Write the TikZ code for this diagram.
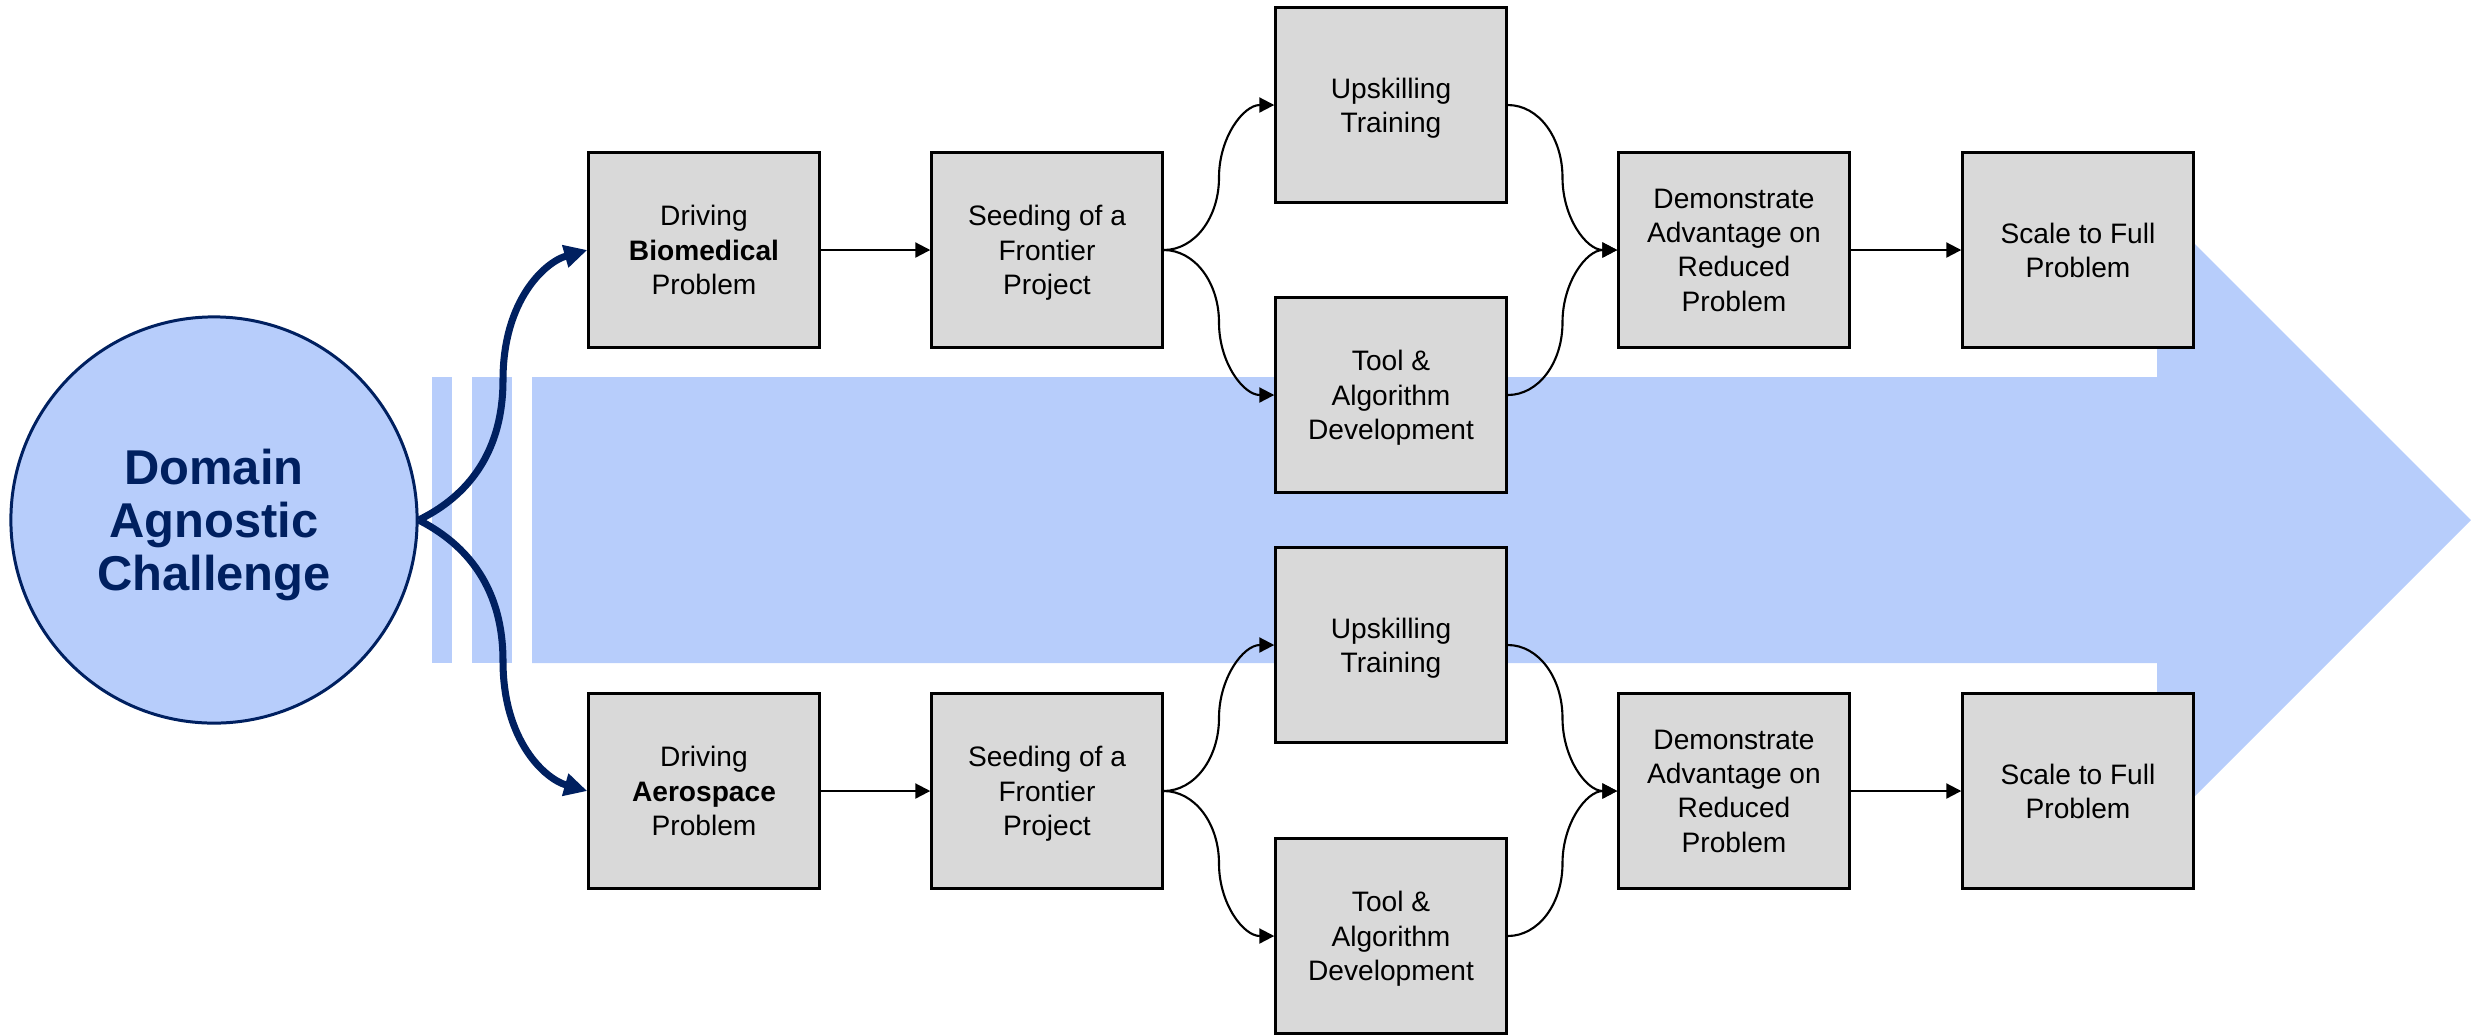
\documentclass[tikz,border=0pt]{standalone}
\usepackage{fontspec}
\setmainfont{Liberation Sans}
\usetikzlibrary{arrows.meta,calc}
\definecolor{bandblue}{RGB}{183,205,251}
\definecolor{navy}{RGB}{0,32,96}
\definecolor{boxgray}{RGB}{217,217,217}
\begin{document}
\begin{tikzpicture}[x=0.01cm,y=-0.01cm,
  stagebox/.style={draw=black, fill=boxgray, line width=0.65pt,
    minimum width=2.31cm, minimum height=1.95cm, inner sep=0pt,
    align=center, text depth=0pt, font=\fontsize{8}{9.75}\selectfont},
  hubnode/.style={circle, draw=navy, fill=bandblue, line width=0.85pt,
    minimum size=4.06cm, inner sep=0pt, align=center, text=navy,
    text depth=0pt, font=\fontsize{13.9}{15}\selectfont\bfseries},
  flowarrow/.style={draw=black, line width=0.6pt,
    -{Triangle[length=0.15cm,width=0.15cm]}},
  navyarrow/.style={draw=navy, line width=2pt,
    -{Triangle[length=0.23cm,width=0.22cm]}},
  riseto/.style={to path={.. controls +(31,0) and +(0,40) ..
    ($(\tikztostart)!0.5!(\tikztotarget)$) .. controls +(0,-40) and +(-31,0) ..
    (\tikztotarget)}},
  dropto/.style={to path={.. controls +(31,0) and +(0,-40) ..
    ($(\tikztostart)!0.5!(\tikztotarget)$) .. controls +(0,40) and +(-31,0) ..
    (\tikztotarget)}},
]
\useasboundingbox (0,0) rectangle (2471,1035);

% background band: two thin bars and the big arrow
\fill[bandblue] (432,377) rectangle (452,663);
\fill[bandblue] (472,377) rectangle (512,663);
\fill[bandblue] (532,377) -- (2157,377) -- (2157,206) -- (2471,520)
  -- (2157,834) -- (2157,663) -- (532,663) -- cycle;

% central challenge
\node[hubnode] (hub) at (214,520) {Domain\\Agnostic\\Challenge};

% upper track
\node[stagebox] (bio)   at (704,250)  {Driving\\\textbf{Biomedical}\\Problem};
\node[stagebox] (seedA) at (1047,250) {Seeding of a\\Frontier\\Project};
\node[stagebox] (upA)   at (1391,105) {Upskilling\\Training};
\node[stagebox] (toolA) at (1391,395) {Tool \&\\Algorithm\\Development};
\node[stagebox] (demoA) at (1734,250) {Demonstrate\\Advantage on\\Reduced\\Problem};
\node[stagebox] (scaleA) at (2078,250) {Scale to Full\\Problem};

% lower track
\node[stagebox] (aero)  at (704,791)  {Driving\\\textbf{Aerospace}\\Problem};
\node[stagebox] (seedB) at (1047,791) {Seeding of a\\Frontier\\Project};
\node[stagebox] (upB)   at (1391,645) {Upskilling\\Training};
\node[stagebox] (toolB) at (1391,936) {Tool \&\\Algorithm\\Development};
\node[stagebox] (demoB) at (1734,791) {Demonstrate\\Advantage on\\Reduced\\Problem};
\node[stagebox] (scaleB) at (2078,791) {Scale to Full\\Problem};

% branches from the challenge
\draw[navyarrow] (hub.east) .. controls (460,500) and (503,460) .. (503,380)
  .. controls (503,300) and (545,262) .. (bio.west);
\draw[navyarrow] (hub.east) .. controls (460,541) and (503,581) .. (503,661)
  .. controls (503,741) and (545,779) .. (aero.west);

% upper track connectors
\draw[flowarrow] (bio.east) -- (seedA.west);
\draw[flowarrow] (seedA.east) to[riseto] (upA.west);
\draw[flowarrow] (seedA.east) to[dropto] (toolA.west);
\draw[flowarrow] (upA.east) to[dropto] (demoA.west);
\draw[flowarrow] (toolA.east) to[riseto] (demoA.west);
\draw[flowarrow] (demoA.east) -- (scaleA.west);

% lower track connectors
\draw[flowarrow] (aero.east) -- (seedB.west);
\draw[flowarrow] (seedB.east) to[riseto] (upB.west);
\draw[flowarrow] (seedB.east) to[dropto] (toolB.west);
\draw[flowarrow] (upB.east) to[dropto] (demoB.west);
\draw[flowarrow] (toolB.east) to[riseto] (demoB.west);
\draw[flowarrow] (demoB.east) -- (scaleB.west);
\end{tikzpicture}
\end{document}
